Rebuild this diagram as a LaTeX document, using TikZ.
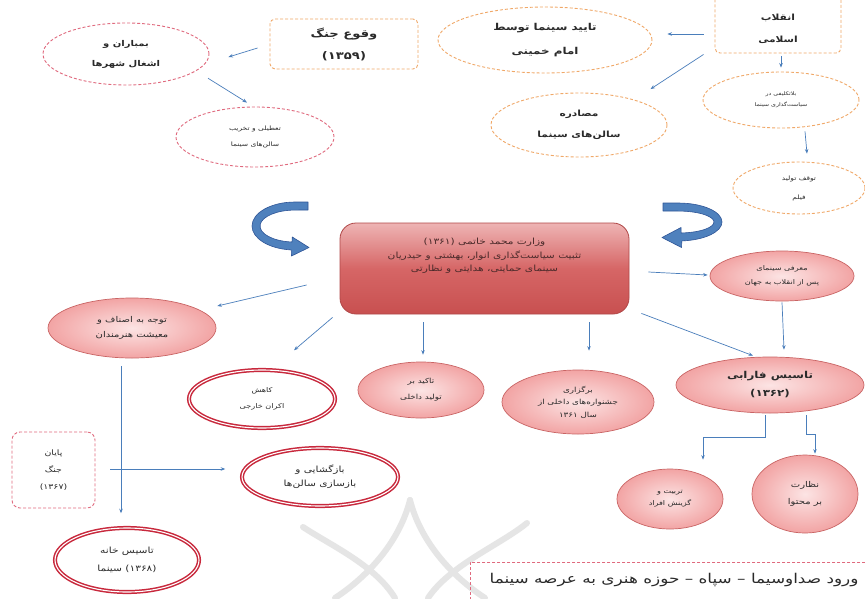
\documentclass[tikz,border=0pt]{standalone}
\usepackage{fontspec}
\usepackage{graphicx}
\usetikzlibrary{shapes.geometric,arrows.meta}
\TeXXeTstate=1
\newfontfamily\fafont[Script=Arabic]{DejaVu Sans}
\newcommand{\fa}[1]{\scalebox{1.25}[1]{{\fafont\beginR #1\endR}}}
\newcommand{\zw}{^^^^200c}
\newcommand{\fs}[2]{\fontsize{#1}{#2}\selectfont}
\definecolor{dashOrange}{HTML}{F0A868}
\definecolor{dashRed}{HTML}{E06A7E}
\definecolor{pinkIn}{HTML}{FCE4E4}
\definecolor{pinkOut}{HTML}{F2A4A4}
\definecolor{pinkBorder}{HTML}{C96464}
\definecolor{ringRed}{HTML}{C8283C}
\definecolor{arrBlue}{HTML}{4A7EBB}
\definecolor{txt}{HTML}{2A2A2A}
\definecolor{mainTop}{HTML}{EEB4B4}
\definecolor{mainMid}{HTML}{D66666}
\definecolor{mainBot}{HTML}{C85050}
\definecolor{mainBorder}{HTML}{B04848}
\definecolor{mainTxt}{HTML}{4A2A2A}
\definecolor{bigFill}{HTML}{4F81BD}
\definecolor{bigBorder}{HTML}{2F5597}
\begin{document}
\begin{tikzpicture}[x=1pt,y=-1pt,
  sz/.style 2 args={minimum width=#1pt,minimum height=#2pt},
  dashO/.style={draw=dashOrange,dash pattern=on 3pt off 2pt,line width=0.9pt},
  dashR/.style={draw=dashRed,dash pattern=on 3pt off 2pt,line width=0.9pt},
  ell/.style={ellipse,inner sep=0pt,align=center,text=txt},
  boxn/.style={rectangle,inner sep=0pt,align=center,text=txt},
  pinkE/.style={ell,draw=pinkBorder,line width=0.7pt,inner color=pinkIn,outer color=pinkOut},
  ringE/.style={ell,draw=ringRed,line width=1.5pt,double=white,double distance=1.1pt,fill=white},
  arr/.style={draw=arrBlue,line width=0.7pt,-{Stealth[length=4.5pt,width=3.5pt]}},
  bigarrow/.style={fill=bigFill,draw=bigBorder,line width=0.6pt,line join=round},
  wm/.style={draw=black!10,line width=6pt,line cap=round}
]
\useasboundingbox (0,0) rectangle (865,598);
\clip (0,0) rectangle (865,598);
\fill[white] (0,0) rectangle (865,598);

% watermark
\draw[wm] (410,500) .. controls (400,540) and (370,575) .. (335,598);
\draw[wm] (410,500) .. controls (420,540) and (450,575) .. (485,598);
\draw[wm] (303,527) .. controls (330,545) and (375,565) .. (395,598);
\draw[wm] (527,523) .. controls (500,545) and (450,565) .. (428,598);

% top section
\node[ell,dashR,sz={166}{62},font=\fs{8}{20}\bfseries] (bomb) at (126,54) {\fa{بمباران و}\\\fa{اشغال شهرها}};
\node[boxn,dashO,rounded corners=5pt,sz={148}{50},font=\fs{10.5}{22}\bfseries] (war) at (344,44) {\fa{وقوع جنگ}\\\fa{(۱۳۵۹)}};
\node[ell,dashR,sz={158}{60},font=\fs{6}{16}] (close) at (255,137) {\fa{تعطیلی و تخریب}\\\fa{سالن\zw های سینما}};
\node[ell,dashO,sz={214}{66},font=\fs{9.5}{24}\bfseries] (imam) at (545,40) {\fa{تایید سینما توسط}\\\fa{امام خمینی}};
\node[boxn,dashO,rounded corners=5pt,sz={126}{70}] (rev) at (778,18) {};
\node[align=center,text=txt,font=\fs{8.5}{22}\bfseries] (revtxt) at (778,29) {\fa{انقلاب}\\\fa{اسلامی}};
\node[ell,dashO,sz={176}{64},font=\fs{8.5}{21}\bfseries] (conf) at (579,125) {\fa{مصادره}\\\fa{سالن\zw های سینما}};
\node[ell,dashO,sz={156}{56},font=\fs{5}{11}] (lim) at (781,100) {\fa{بلاتکلیفی در}\\\fa{سیاست\zw گذاری سینما}};
\node[ell,dashO,sz={132}{52},font=\fs{6}{19}] (stop) at (799,188) {\fa{توقف تولید}\\\fa{فیلم}};

\draw[arr] ([shift={(-12,4)}]war.west) -- ([shift={(19,3)}]bomb.east);
\draw[arr] ([shift={(23,2)}]bomb.south east) -- ([shift={(-8,-4)}]close.north);
\draw[arr] ([shift={(-11,16)}]rev.west) -- ([shift={(15,-6)}]imam.east);
\draw[arr] ([shift={(-11,1)}]rev.south west) -- ([shift={(9,-13)}]conf.north east);
\draw[arr] ([shift={(3,3)}]rev.south) -- ([shift={(0,-4)}]lim.north);
\draw[arr] ([shift={(24,3)}]lim.south) -- ([shift={(8,-8)}]stop.north);

% curved arrows
\path[bigarrow] (308,202) -- (295,202)
  arc[start angle=-90,end angle=-265,x radius=43,y radius=24]
  -- (291.5,256) -- (309,247.5) -- (292.3,237) -- (292,242)
  arc[start angle=95,end angle=270,x radius=35,y radius=16]
  -- (308,210) -- cycle;
\path[bigarrow] (663,203) -- (678,203)
  arc[start angle=-90,end angle=85,x radius=44,y radius=19]
  -- (681.5,247.5) -- (662,237.5) -- (681,227.5) -- (681.1,233)
  arc[start angle=85,end angle=-90,x radius=36,y radius=11]
  -- (663,211) -- cycle;

% central box
\node[rectangle,rounded corners=16pt,sz={289}{91},draw=mainBorder,line width=0.8pt,top color=mainTop,bottom color=mainBot,middle color=mainMid] (main) at (484.5,268.5) {};
\node[align=center,text=mainTxt,font=\fs{8.5}{13.5}] (maintxt) at (484.5,256) {\fa{وزارت محمد خاتمی (۱۳۶۱)}\\\fa{تثبیت سیاست\zw گذاری انوار، بهشتی و حیدریان}\\\fa{سینمای حمایتی، هدایتی و نظارتی}};

% middle section
\node[pinkE,sz={144}{50},font=\fs{6.5}{14}] (intro) at (782,276) {\fa{معرفی سینمای}\\\fa{پس از انقلاب به جهان}};
\node[pinkE,sz={168}{60},font=\fs{8}{15}] (guild) at (132,328) {\fa{توجه به اصناف و}\\\fa{معیشت هنرمندان}};
\node[ringE,sz={146}{58},font=\fs{6.5}{16}] (reduce) at (262,399) {\fa{کاهش}\\\fa{اکران خارجی}};
\node[pinkE,sz={126}{56},font=\fs{7}{16}] (emph) at (421,390) {\fa{تاکید بر}\\\fa{تولید داخلی}};
\node[pinkE,sz={152}{64},font=\fs{7}{12.5}] (fest) at (578,402) {\fa{برگزاری}\\\fa{جشنواره\zw های داخلی از}\\\fa{سال ۱۳۶۱}};
\node[pinkE,sz={188}{56},font=\fs{9.5}{18}\bfseries] (farabi) at (770,385) {\fa{تاسیس فارابی}\\\fa{(۱۳۶۲)}};
\node[pinkE,sz={106}{60},font=\fs{6.5}{12}] (train) at (670,499) {\fa{تربیت و}\\\fa{گزینش افراد}};
\node[pinkE,sz={106}{78},font=\fs{8}{17}] (super) at (805,494) {\fa{نظارت}\\\fa{بر محتوا}};

\draw[arr] ([shift={(19,3.5)}]main.east) -- ([shift={(-2,-1)}]intro.west);
\draw[arr] ([shift={(-33,16.5)}]main.west) -- ([shift={(1,-22)}]guild.east);
\draw[arr] ([shift={(-7,3)}]main.south west) -- ([shift={(32,-19)}]reduce.north);
\draw[arr] ([shift={(-61.5,8)}]main.south) -- ([shift={(2,-7)}]emph.north);
\draw[arr] ([shift={(104.5,8)}]main.south) -- ([shift={(11,-19)}]fest.north);
\draw[arr] ([shift={(12,-1)}]main.south east) -- ([shift={(-17,-1)}]farabi.north);
\draw[arr] ([shift={(0,1)}]intro.south) -- ([shift={(14,-7)}]farabi.north);
\draw[arr] ([shift={(-5,2)}]farabi.south) -- ++(0,22) -| ([shift={(33,-9)}]train.north);
\draw[arr] ([shift={(36,2)}]farabi.south) -- ++(0,19) -| ([shift={(10,-1)}]super.north);

% lower left section
\node[boxn,dashR,rounded corners=8pt,sz={83}{76},font=\fs{7.5}{17}] (end) at (53.5,470) {\fa{پایان}\\\fa{جنگ}\\\fa{(۱۳۶۷)}};
\node[ringE,sz={156}{58},font=\fs{8.5}{14}] (reopen) at (320,477) {\fa{بازگشایی و}\\\fa{بازسازی سالن\zw ها}};
\node[ringE,sz={144}{64},font=\fs{8.5}{18}] (house) at (127,560) {\fa{تاسیس خانه}\\\fa{(۱۳۶۸) سینما}};

\draw[arr] ([shift={(-11,8)}]guild.south) -- ([shift={(-6,-14)}]house.north);
\draw[arr] ([shift={(15,-1)}]end.east) -- ([shift={(-16,-8)}]reopen.west);

% bottom box
\node[boxn,dashR,sz={410}{60},anchor=north west] (entry) at (470,562) {};
\node[text=txt,font=\fs{13.5}{15},anchor=east] (entrytxt) at (862,580) {\fa{ورود صداوسیما – سپاه – حوزه هنری به عرصه سینما}};
\end{tikzpicture}
\end{document}
